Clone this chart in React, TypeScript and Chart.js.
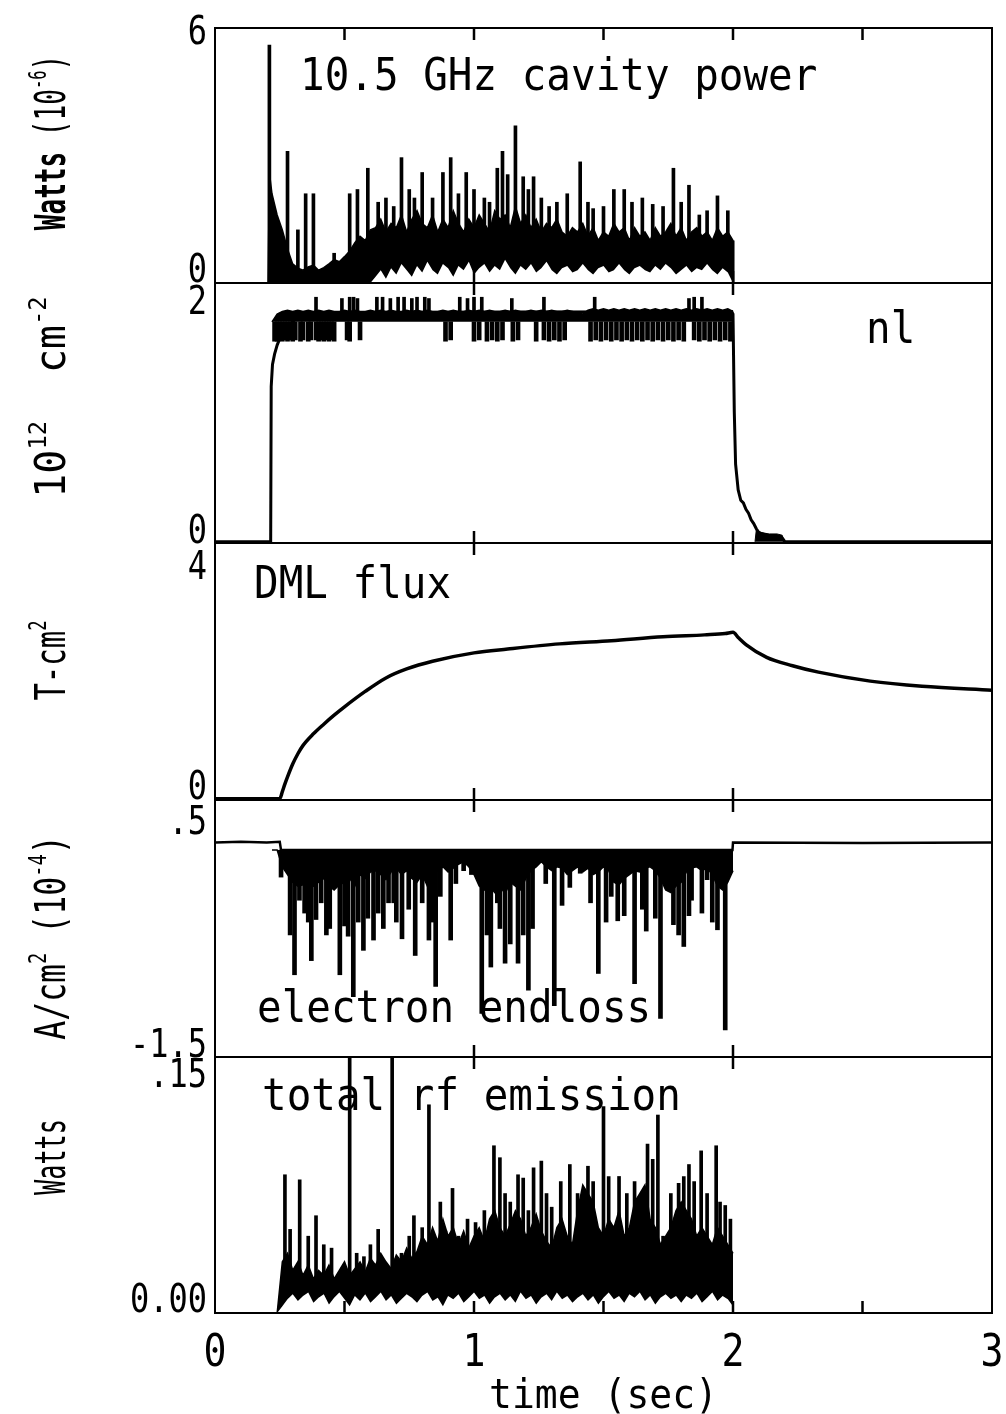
import React, { useEffect, useRef } from "react";
import Chart from "chart.js/auto";

// ---------------- data ----------------
// shared sampling grid (seconds) for the dense noisy bands
const TIME_GRID = [
  0.22, 0.24, 0.26, 0.28, 0.30, 0.32, 0.34, 0.36, 0.38, 0.40,
  0.42, 0.44, 0.46, 0.48, 0.50, 0.52, 0.54, 0.56, 0.58, 0.60,
  0.62, 0.64, 0.66, 0.68, 0.70, 0.72, 0.74, 0.76, 0.78, 0.80,
  0.82, 0.84, 0.86, 0.88, 0.90, 0.92, 0.94, 0.96, 0.98, 1.00,
  1.02, 1.04, 1.06, 1.08, 1.10, 1.12, 1.14, 1.16, 1.18, 1.20,
  1.22, 1.24, 1.26, 1.28, 1.30, 1.32, 1.34, 1.36, 1.38, 1.40,
  1.42, 1.44, 1.46, 1.48, 1.50, 1.52, 1.54, 1.56, 1.58, 1.60,
  1.62, 1.64, 1.66, 1.68, 1.70, 1.72, 1.74, 1.76, 1.78, 1.80,
  1.82, 1.84, 1.86, 1.88, 1.90, 1.92, 1.94, 1.96, 1.98, 2.00,
];

// Panel 1: 10.5 GHz cavity power (10^-6 W)
const CAV_EDGE_T = [0, 0.205, 0.21];
const CAV_EDGE_V = [0, 0, 2.6];
const CAV_TAIL_T = [2.003, 3];
const CAV_TAIL_V = [0, 0];
const CAV_TOP = [
  2.1, 1.6, 1.25, 0.8, 0.45, 0.35, 0.3, 0.38, 0.42, 0.3,
  0.36, 0.45, 0.55, 0.5, 0.62, 0.75, 0.95, 1.1, 1.0, 1.25,
  1.3, 1.5, 1.2, 1.4, 1.3, 1.6, 1.2, 1.5, 1.7, 1.4,
  1.3, 1.6, 1.2, 1.5, 1.3, 1.7, 1.4, 1.2, 1.5, 1.3,
  1.6, 1.4, 1.2, 1.7, 1.5, 1.6, 1.3, 1.8, 1.4, 1.6,
  1.3, 1.5, 1.2, 1.4, 1.3, 1.5, 1.2, 1.1, 1.3, 1.2,
  1.4, 1.1, 1.3, 1.0, 1.2, 1.1, 1.4, 1.2, 1.3, 1.0,
  1.3, 1.1, 1.2, 1.0, 1.3, 1.1, 1.2, 1.4, 1.1, 1.3,
  1.0, 1.2, 1.3, 1.1, 1.2, 1.0, 1.3, 1.1, 1.2, 1.0,
];
const CAV_LOW = [
  0, 0, 0, 0, 0, 0, 0, 0, 0, 0,
  0, 0, 0, 0, 0, 0, 0, 0, 0, 0,
  0.15, 0.3, 0.1, 0.35, 0.2, 0.45, 0.3, 0.15, 0.4, 0.25,
  0.5, 0.3, 0.2, 0.45, 0.35, 0.15, 0.4, 0.3, 0.5, 0.2,
  0.35, 0.45, 0.25, 0.4, 0.3, 0.55, 0.35, 0.2, 0.4, 0.3,
  0.45, 0.25, 0.35, 0.5, 0.3, 0.2, 0.35, 0.4, 0.25, 0.3,
  0.45, 0.3, 0.2, 0.35, 0.4, 0.25, 0.3, 0.45, 0.3, 0.2,
  0.35, 0.4, 0.3, 0.25, 0.4, 0.3, 0.45, 0.35, 0.2, 0.3,
  0.4, 0.25, 0.35, 0.3, 0.45, 0.3, 0.2, 0.35, 0.25, 0,
];
const CAV_SPIKE_T = [
  0.21, 0.28, 0.32, 0.35, 0.38, 0.46, 0.52, 0.55, 0.59, 0.63,
  0.66, 0.69, 0.72, 0.75, 0.77, 0.80, 0.84, 0.88, 0.91, 0.94,
  0.97, 1.00, 1.04, 1.06, 1.09, 1.11, 1.13, 1.16, 1.19, 1.21,
  1.23, 1.26, 1.29, 1.32, 1.36, 1.41, 1.44, 1.46, 1.50, 1.54,
  1.58, 1.61, 1.65, 1.69, 1.73, 1.77, 1.80, 1.83, 1.87, 1.90,
  1.94, 1.98,
];
const CAV_SPIKE_V = [
  5.6, 3.1, 1.25, 2.1, 2.1, 0.7, 2.1, 2.2, 2.7, 1.9,
  2.0, 1.8, 2.95, 2.2, 2.0, 2.6, 2.0, 2.6, 2.95, 2.1,
  2.6, 2.2, 2.0, 1.9, 2.7, 3.1, 2.55, 3.7, 2.5, 2.2,
  2.5, 2.0, 1.8, 1.9, 2.1, 2.85, 1.9, 1.75, 1.8, 2.2,
  2.2, 1.9, 2.0, 1.85, 1.8, 2.7, 1.9, 2.3, 1.6, 1.7,
  2.05, 1.7,
];

// Panel 2: line density nl (10^12 cm^-2)
const NL_T = [
  0, 0.215, 0.217, 0.222, 0.23, 0.24, 0.25, 0.26, 0.28, 0.30,
  0.32, 0.34, 1.995, 2.0, 2.005, 2.01, 2.02, 2.03, 2.04, 2.05,
  2.06, 2.07, 2.08, 2.09, 2.10, 2.13, 2.16, 2.19, 2.2, 3.0,
];
const NL_V = [
  0, 0, 1.2, 1.37, 1.45, 1.52, 1.57, 1.61, 1.66, 1.70,
  1.74, 1.77, 1.78, 1.76, 1.0, 0.6, 0.4, 0.32, 0.3, 0.25,
  0.22, 0.17, 0.14, 0.1, 0.07, 0.05, 0.04, 0.03, 0, 0,
];
const NL_BAND_BOTTOM = 1.70;
const NL_BAND = [
  1.70, 1.76, 1.78, 1.79, 1.78, 1.79, 1.78, 1.79, 1.78, 1.79,
  1.78, 1.79, 1.78, 1.78, 1.79, 1.78, 1.79, 1.78, 1.78, 1.79,
  1.78, 1.79, 1.78, 1.79, 1.78, 1.78, 1.79, 1.78, 1.79, 1.78,
  1.79, 1.78, 1.78, 1.79, 1.78, 1.79, 1.78, 1.78, 1.79, 1.78,
  1.79, 1.78, 1.79, 1.78, 1.78, 1.79, 1.78, 1.79, 1.78, 1.78,
  1.79, 1.78, 1.79, 1.78, 1.79, 1.78, 1.78, 1.79, 1.78, 1.77,
  1.76, 1.79, 1.80, 1.79, 1.80, 1.79, 1.80, 1.79, 1.80, 1.79,
  1.80, 1.79, 1.80, 1.79, 1.80, 1.79, 1.80, 1.79, 1.80, 1.79,
  1.80, 1.79, 1.80, 1.79, 1.80, 1.79, 1.80, 1.79, 1.80, 1.78,
];
const NL_LOW_T = [
  0.23, 0.24, 0.25, 0.26, 0.27, 0.28, 0.29, 0.30, 0.31, 0.33, 0.34, 0.36, 0.37,
  0.39, 0.40, 0.41, 0.42, 0.43, 0.44, 0.45, 0.46,
  0.51, 0.52, 0.56, 0.89, 0.91, 1.00, 1.02,
  1.05, 1.07, 1.09, 1.11, 1.15, 1.17, 1.24, 1.27,
  1.29, 1.31, 1.33, 1.35,
  1.45, 1.47, 1.49, 1.51, 1.53, 1.55, 1.57,
  1.59, 1.61, 1.63, 1.65,
  1.67, 1.69, 1.71, 1.73, 1.75, 1.77, 1.79, 1.81,
  1.85, 1.87, 1.89, 1.91, 1.93, 1.95, 1.97, 1.99,
];
const NL_LOW_V = [
  1.55, 1.55, 1.56, 1.55, 1.56, 1.55, 1.56, 1.55, 1.56, 1.55, 1.56, 1.55, 1.56,
  1.56, 1.55, 1.56, 1.55, 1.56, 1.55, 1.56, 1.55,
  1.56, 1.55, 1.56, 1.55, 1.56, 1.55, 1.56,
  1.55, 1.56, 1.55, 1.56, 1.55, 1.56, 1.55, 1.56,
  1.55, 1.56, 1.55, 1.56,
  1.55, 1.56, 1.55, 1.56, 1.55, 1.56, 1.55,
  1.56, 1.55, 1.56, 1.55,
  1.56, 1.55, 1.56, 1.55, 1.56, 1.55, 1.56, 1.55,
  1.56, 1.55, 1.56, 1.55, 1.56, 1.55, 1.56, 1.55,
];
const NL_SPIKE_BASE = 1.76;
const NL_SPIKE_T = [
  0.39, 0.49, 0.52, 0.535, 0.55, 0.625, 0.647, 0.677, 0.707, 0.73,
  0.76, 0.78, 0.81, 0.826, 0.945, 0.975, 1.0, 1.03, 1.146, 1.27,
  1.466, 1.83, 1.85, 1.88,
];
const NL_SPIKE_V = [
  1.89, 1.88, 1.89, 1.89, 1.88, 1.89, 1.89, 1.88, 1.89, 1.89,
  1.88, 1.89, 1.89, 1.88, 1.89, 1.88, 1.89, 1.89, 1.88, 1.89,
  1.89, 1.88, 1.89, 1.89,
];
const NL_BLOB_T = [2.085, 2.09, 2.11, 2.14, 2.17, 2.19, 2.195];
const NL_BLOB_V = [0, 0.09, 0.07, 0.06, 0.06, 0.05, 0];

// Panel 3: DML flux (T-cm^2)
const DML_T = [
  0, 0.25, 0.26, 0.27, 0.28, 0.30, 0.32, 0.34, 0.38, 0.42,
  0.46, 0.50, 0.58, 0.66, 0.74, 0.84, 1.0, 1.13, 1.33, 1.53,
  1.73, 1.89, 1.97, 2.0, 2.02, 2.05, 2.13, 2.23, 2.33, 2.53,
  2.73, 3.0,
];
const DML_V = [
  0.02, 0.02, 0.13, 0.25, 0.36, 0.56, 0.72, 0.85, 1.03, 1.18,
  1.32, 1.45, 1.69, 1.90, 2.04, 2.16, 2.29, 2.35, 2.43, 2.48,
  2.54, 2.57, 2.59, 2.61, 2.53, 2.42, 2.22, 2.09, 1.99, 1.85,
  1.77, 1.71,
];

// Panel 4: electron endloss (10^-4 A/cm^2)
const EL_TOP = 0.11;
const EL_LINE_T = [0, 0.10, 0.20, 0.25, 0.255, 1.998, 2.0, 2.5, 3.0];
const EL_LINE_V = [0.17, 0.175, 0.17, 0.175, 0.11, 0.11, 0.17, 0.165, 0.17];
const EL_BAND = [
  0.11, 0.11, -0.02, -0.08, -0.14, -0.17, -0.16, -0.12, -0.17, -0.14,
  -0.11, -0.17, -0.2, -0.16, -0.14, -0.11, -0.17, -0.08, -0.11, -0.06,
  -0.05, -0.08, -0.12, -0.06, -0.03, -0.08, -0.05, -0.11, -0.14, -0.08,
  -0.17, -0.11, -0.05, -0.02, -0.06, -0.03, 0.0, 0.02, -0.02, -0.08,
  -0.17, -0.2, -0.17, -0.22, -0.17, -0.23, -0.14, -0.17, -0.2, -0.11,
  -0.05, -0.02, 0.02, -0.02, -0.05, -0.02, -0.03, -0.08, -0.05, -0.02,
  -0.06, -0.03, -0.08, -0.06, -0.02, -0.05, -0.14, -0.16, -0.11, -0.08,
  -0.05, -0.06, -0.03, -0.02, -0.05, -0.11, -0.2, -0.22, -0.17, -0.14,
  -0.06, -0.03, -0.02, -0.05, -0.03, -0.08, -0.17, -0.2, -0.14, -0.05,
];
const EL_SPIKE_T = [
  0.255, 0.29, 0.307, 0.326, 0.346, 0.36, 0.372, 0.39, 0.41, 0.43,
  0.443, 0.482, 0.50, 0.514, 0.534, 0.553, 0.573, 0.59, 0.612, 0.63,
  0.65, 0.67, 0.69, 0.70, 0.722, 0.748, 0.773, 0.80, 0.826, 0.84,
  0.852, 0.87, 0.91, 0.93, 0.96, 0.99, 1.03, 1.05, 1.065, 1.09,
  1.10, 1.12, 1.14, 1.17, 1.19, 1.21, 1.226, 1.277, 1.31, 1.34,
  1.37, 1.41, 1.45, 1.48, 1.51, 1.53, 1.555, 1.58, 1.62, 1.65,
  1.665, 1.70, 1.72, 1.77, 1.79, 1.81, 1.83, 1.84, 1.88, 1.90,
  1.92, 1.94, 1.97, 1.99,
];
const EL_SPIKE_V = [
  -0.10, -0.55, -0.86, -0.28, -0.38, -0.45, -0.75, -0.43, -0.30, -0.55,
  -0.50, -0.86, -0.48, -0.56, -1.03, -0.45, -0.67, -0.42, -0.59, -0.38,
  -0.50, -0.30, -0.30, -0.45, -0.58, -0.35, -0.71, -0.30, -0.59, -0.45,
  -0.95, -0.25, -0.59, -0.15, -0.05, -0.08, -1.16, -0.55, -0.80, -0.30,
  -0.50, -0.77, -0.62, -0.77, -0.55, -0.98, -0.50, -0.15, -1.10, -0.32,
  -0.18, -0.07, -0.30, -0.85, -0.45, -0.25, -0.44, -0.40, -0.93, -0.35,
  -0.52, -0.42, -1.20, -0.47, -0.55, -0.64, -0.40, -0.28, -0.38, -0.12,
  -0.45, -0.51, -1.29, -0.02,
];

// Panel 5: total rf emission (W)
const RF_TOP = [
  0, 0, 0.03, 0.035, 0.025, 0.03, 0.022, 0.028, 0.02, 0.025,
  0.022, 0.028, 0.02, 0.025, 0.03, 0.022, 0.026, 0.03, 0.024, 0.032,
  0.028, 0.035, 0.03, 0.026, 0.034, 0.03, 0.038, 0.032, 0.036, 0.045,
  0.04, 0.05, 0.042, 0.055, 0.045, 0.05, 0.04, 0.048, 0.038, 0.045,
  0.05, 0.042, 0.055, 0.06, 0.05, 0.045, 0.052, 0.06, 0.055, 0.045,
  0.05, 0.058, 0.048, 0.042, 0.038, 0.05, 0.055, 0.045, 0.04, 0.06,
  0.075, 0.07, 0.065, 0.05, 0.045, 0.055, 0.05, 0.06, 0.045, 0.05,
  0.065, 0.07, 0.075, 0.055, 0.05, 0.04, 0.045, 0.05, 0.06, 0.065,
  0.06, 0.055, 0.045, 0.05, 0.045, 0.04, 0.05, 0.045, 0.04, 0.035,
];
const RF_LOW = [
  0, 0, 0.004, 0.008, 0.011, 0.007, 0.010, 0.012, 0.006, 0.009,
  0.011, 0.005, 0.009, 0.012, 0.008, 0.004, 0.010, 0.007, 0.011, 0.006,
  0.009, 0.012, 0.007, 0.010, 0.005, 0.008, 0.011, 0.009, 0.006, 0.010,
  0.012, 0.007, 0.009, 0.004, 0.010, 0.008, 0.011, 0.006, 0.009, 0.012,
  0.008, 0.010, 0.005, 0.009, 0.011, 0.007, 0.010, 0.006, 0.012, 0.008,
  0.010, 0.005, 0.009, 0.011, 0.007, 0.012, 0.008, 0.010, 0.006, 0.009,
  0.011, 0.007, 0.010, 0.005, 0.009, 0.012, 0.008, 0.010, 0.006, 0.011,
  0.009, 0.012, 0.007, 0.010, 0.005, 0.009, 0.011, 0.008, 0.010, 0.006,
  0.010, 0.008, 0.011, 0.006, 0.009, 0.012, 0.007, 0.010, 0.008, 0.004,
];
const RF_SPIKE_T = [
  0.27, 0.29, 0.327, 0.36, 0.39, 0.42, 0.45, 0.52, 0.547, 0.575,
  0.60, 0.63, 0.684, 0.72, 0.75, 0.768, 0.80, 0.826, 0.846, 0.87,
  0.89, 0.917, 0.94, 0.975, 1.006, 1.04, 1.077, 1.10, 1.12, 1.14,
  1.17, 1.19, 1.21, 1.23, 1.26, 1.28, 1.30, 1.335, 1.37, 1.40,
  1.44, 1.46, 1.50, 1.52, 1.56, 1.59, 1.62, 1.67, 1.69, 1.71,
  1.73, 1.76, 1.79, 1.81, 1.83, 1.85, 1.877, 1.90, 1.935, 1.95,
  1.97, 1.99,
];
const RF_SPIKE_V = [
  0.081, 0.049, 0.078, 0.045, 0.057, 0.040, 0.038, 0.15, 0.035, 0.033,
  0.040, 0.049, 0.15, 0.035, 0.045, 0.057, 0.05, 0.122, 0.042, 0.065,
  0.048, 0.073, 0.045, 0.055, 0.053, 0.06, 0.098, 0.091, 0.07, 0.065,
  0.081, 0.079, 0.06, 0.085, 0.089, 0.07, 0.062, 0.077, 0.087, 0.07,
  0.086, 0.077, 0.121, 0.08, 0.08, 0.07, 0.077, 0.099, 0.09, 0.116,
  0.045, 0.07, 0.076, 0.08, 0.087, 0.077, 0.095, 0.07, 0.098, 0.065,
  0.063, 0.055,
];

// axes / labels
const PANEL_IDS = ["y1", "y2", "y3", "y4", "y5"];
const Y_MIN = [0, -0.01, 0, -1.5, 0];
const Y_MAX = [6, 2, 4, 0.5, 0.15];
const Y_TOP_TICK = [6, 2, 4, 0.5, 0.15];
const Y_BOTTOM_TICK = [0, 0, 0, -1.5, 0];
const Y_TOP_LABELS = ["6", "2", "4", ".5", ".15"];
const Y_BOTTOM_LABELS = ["0", "0", "0", "-1.5", "0.00"];
const X_TICK_VALUES = [0, 1, 2, 3];
const X_TICK_LABELS = ["0", "1", "2", "3"];
const X_TITLE = "time (sec)";
const PANEL_TITLES = ["10.5 GHz cavity power", "nl", "DML flux", "electron endloss", "total rf emission"];
const AXIS_TITLES = [
  [{ t: "Watts ", b: true }, { t: "(10" }, { t: "-6", sup: true }, { t: ")" }],
  [{ t: "10" }, { t: "12", sup: true }, { t: "  cm" }, { t: "-2", sup: true }],
  [{ t: "T-cm" }, { t: "2", sup: true }],
  [{ t: "A/cm" }, { t: "2", sup: true }, { t: " (10" }, { t: "-4", sup: true }, { t: ")" }],
  [{ t: "Watts" }],
];
const TOP_TICKS = [[0.5, 1, 1.5, 2, 2.5], [1, 2], [1, 2], [1, 2], [1, 2]];
const BOTTOM_TICKS = [[1, 2], [1, 2], [1, 2], [1, 2], [0.5, 1, 1.5, 2, 2.5]];

// ---------------- styles / layout ----------------
const FONT = '"DejaVu Sans Mono", monospace';
const STACK_WEIGHTS = [255, 260, 257, 257, 256];
const TOP_LABEL_DY = [2, 17, 22, 20, 16];
const BOTTOM_LABEL_DY = [-15, -13, -15, -14, -15];
const TITLE_POS = [[300, 90], [866, 343], [254, 598], [257, 1022], [262, 1110]];
const AXIS_TITLE_X = 50;
const AXIS_TITLE_DY = [-13, -16, -11, 9, -28];
const AXIS_TITLE_STYLE = [
  { size: 42, sx: 0.62 }, { size: 42, sx: 0.95 }, { size: 42, sx: 0.69 }, { size: 42, sx: 0.75 }, { size: 42, sx: 0.6 },
];
const TICK_LEN = 12;
const Y_LABEL_SIZE = 39;

const pts = (T: number[], V: number[]) => T.map((x, i) => ({ x, y: V[i] }));
const floatPts = (T: number[], V: number[], other: number) =>
  T.map((x, i) => ({ x, y: [Math.min(V[i], other), Math.max(V[i], other)] }));

function drawText(ctx: CanvasRenderingContext2D, s: string, x: number, yc: number, size: number, sx: number, align: string) {
  ctx.save();
  ctx.font = `${size}px ${FONT}`;
  ctx.textBaseline = "alphabetic";
  ctx.textAlign = "left";
  const w = ctx.measureText(s).width * sx;
  const x0 = align === "left" ? x : align === "right" ? x - w : x - w / 2;
  ctx.translate(x0, yc + size * 0.365);
  ctx.scale(sx, 1);
  ctx.fillText(s, 0, 0);
  ctx.restore();
}

function drawTitleText(ctx: CanvasRenderingContext2D, s: string, x: number, baseline: number, size: number, sx: number) {
  ctx.save();
  ctx.font = `${size}px ${FONT}`;
  ctx.textBaseline = "alphabetic";
  ctx.translate(x, baseline);
  ctx.scale(sx, 1);
  ctx.fillText(s, 0, 0);
  ctx.restore();
}

function drawRich(ctx: CanvasRenderingContext2D, parts: any[], cx: number, cy: number, size: number, sx: number) {
  ctx.save();
  ctx.translate(cx, cy);
  ctx.rotate(-Math.PI / 2);
  const fontOf = (p: any) => `${p.b ? "bold " : ""}${p.sup ? Math.round(size * 0.6) : size}px ${FONT}`;
  const widths = parts.map((p) => {
    ctx.font = fontOf(p);
    return ctx.measureText(p.t).width * sx;
  });
  const total = widths.reduce((a, b) => a + b, 0);
  let x = -total / 2;
  ctx.textBaseline = "alphabetic";
  parts.forEach((p, i) => {
    ctx.save();
    ctx.font = fontOf(p);
    ctx.translate(x, size * 0.36 + (p.sup ? -size * 0.45 : 0));
    ctx.scale(sx, 1);
    ctx.fillText(p.t, 0, 0);
    ctx.restore();
    x += widths[i];
  });
  ctx.restore();
}

const overlay = {
  id: "overlay",
  beforeDraw(chart: any) {
    const ctx = chart.ctx;
    ctx.save();
    ctx.fillStyle = "#fff";
    ctx.fillRect(0, 0, chart.width, chart.height);
    ctx.restore();
  },
  afterDraw(chart: any) {
    const ctx: CanvasRenderingContext2D = chart.ctx;
    const ca = chart.chartArea;
    const xs = chart.scales.x;
    ctx.save();
    ctx.strokeStyle = "#000";
    ctx.fillStyle = "#000";
    ctx.lineWidth = 2;
    PANEL_IDS.forEach((id, i) => {
      const s = chart.scales[id];
      ctx.strokeRect(ca.left, s.top, ca.right - ca.left, s.bottom - s.top);
      ctx.lineWidth = 2.5;
      ctx.beginPath();
      TOP_TICKS[i].forEach((v) => {
        const x = xs.getPixelForValue(v);
        ctx.moveTo(x, s.top);
        ctx.lineTo(x, s.top + TICK_LEN);
      });
      BOTTOM_TICKS[i].forEach((v) => {
        const x = xs.getPixelForValue(v);
        ctx.moveTo(x, s.bottom);
        ctx.lineTo(x, s.bottom - TICK_LEN);
      });
      ctx.stroke();
      ctx.lineWidth = 2;
      drawText(ctx, Y_TOP_LABELS[i], ca.left - 8, s.getPixelForValue(Y_TOP_TICK[i]) + TOP_LABEL_DY[i], Y_LABEL_SIZE, 0.82, "right");
      drawText(ctx, Y_BOTTOM_LABELS[i], ca.left - 8, s.getPixelForValue(Y_BOTTOM_TICK[i]) + BOTTOM_LABEL_DY[i], Y_LABEL_SIZE, 0.82, "right");
      drawTitleText(ctx, PANEL_TITLES[i], TITLE_POS[i][0], TITLE_POS[i][1], 44, 0.93);
      const st = AXIS_TITLE_STYLE[i];
      drawRich(ctx, AXIS_TITLES[i], AXIS_TITLE_X, (s.top + s.bottom) / 2 + AXIS_TITLE_DY[i], st.size, st.sx);
    });
    X_TICK_VALUES.forEach((v, i) => {
      drawText(ctx, X_TICK_LABELS[i], xs.getPixelForValue(v), ca.bottom + 37, 45, 0.85, "center");
    });
    drawText(ctx, X_TITLE, (ca.left + ca.right) / 2, ca.bottom + 80, 40, 0.95, "center");
    ctx.restore();
  },
};

function yScale(i: number) {
  return {
    type: "linear",
    position: "left",
    stack: "panels",
    stackWeight: STACK_WEIGHTS[i],
    weight: 5 - i,
    min: Y_MIN[i],
    max: Y_MAX[i],
    offset: false,
    display: true,
    ticks: { display: false },
    grid: { display: false, drawTicks: false },
    border: { display: false },
    afterFit: (sc: any) => {
      sc.width = 0;
    },
  };
}

const lineBase = { type: "line", pointRadius: 0, tension: 0, xAxisID: "x" };
const barBase = { type: "bar", grouped: false, borderWidth: 0, backgroundColor: "#000", xAxisID: "x" };

export default function App() {
  const ref = useRef<HTMLCanvasElement>(null);
  useEffect(() => {
    const datasets: any[] = [
      // panel 1
      { ...lineBase, yAxisID: "y1", order: 10, data: [...pts(CAV_EDGE_T, CAV_EDGE_V), ...pts(TIME_GRID, CAV_TOP), ...pts(CAV_TAIL_T, CAV_TAIL_V)], borderColor: "#000", borderWidth: 1.5, backgroundColor: "#000", fill: "origin" },
      { ...barBase, yAxisID: "y1", order: 5, data: pts(CAV_SPIKE_T, CAV_SPIKE_V), barThickness: 3 },
      { ...lineBase, yAxisID: "y1", order: 3, data: pts(TIME_GRID, CAV_LOW), borderWidth: 0, borderColor: "#fff", backgroundColor: "#fff", fill: "origin" },
      // panel 2
      { ...lineBase, yAxisID: "y2", order: 10, data: pts(TIME_GRID, NL_BAND), borderColor: "#000", borderWidth: 1.5, backgroundColor: "#000", fill: { value: NL_BAND_BOTTOM } },
      { ...barBase, yAxisID: "y2", order: 5, data: floatPts(NL_LOW_T, NL_LOW_V, NL_BAND_BOTTOM), barThickness: 4 },
      { ...barBase, yAxisID: "y2", order: 5, data: floatPts(NL_SPIKE_T, NL_SPIKE_V, NL_SPIKE_BASE), barThickness: 3 },
      { ...lineBase, yAxisID: "y2", order: 2, data: pts(NL_BLOB_T, NL_BLOB_V), borderColor: "#000", borderWidth: 1, backgroundColor: "#000", fill: "origin" },
      { ...lineBase, yAxisID: "y2", order: 1, data: pts(NL_T, NL_V), borderColor: "#000", borderWidth: 3, fill: false },
      // panel 3
      { ...lineBase, yAxisID: "y3", order: 1, data: pts(DML_T, DML_V), borderColor: "#000", borderWidth: 3.5, fill: false, cubicInterpolationMode: "monotone" },
      // panel 4
      { ...lineBase, yAxisID: "y4", order: 10, data: pts(TIME_GRID, EL_BAND), borderColor: "#000", borderWidth: 1.5, backgroundColor: "#000", fill: { value: EL_TOP } },
      { ...barBase, yAxisID: "y4", order: 5, data: floatPts(EL_SPIKE_T, EL_SPIKE_V, EL_TOP), barThickness: 4 },
      { ...lineBase, yAxisID: "y4", order: 1, data: pts(EL_LINE_T, EL_LINE_V), borderColor: "#000", borderWidth: 2.5, fill: false },
      // panel 5
      { ...lineBase, yAxisID: "y5", order: 10, data: pts(TIME_GRID, RF_TOP), borderColor: "#000", borderWidth: 1.5, backgroundColor: "#000", fill: "origin" },
      { ...barBase, yAxisID: "y5", order: 5, data: pts(RF_SPIKE_T, RF_SPIKE_V), barThickness: 3 },
      { ...lineBase, yAxisID: "y5", order: 3, data: pts(TIME_GRID, RF_LOW), borderWidth: 0, borderColor: "#fff", backgroundColor: "#fff", fill: "origin" },
    ];
    const chart = new Chart(ref.current as HTMLCanvasElement, {
      type: "line",
      data: { datasets },
      options: {
        responsive: false,
        animation: false,
        events: [],
        devicePixelRatio: 1,
        layout: { padding: { left: 215, right: 14, top: 28, bottom: 101 } },
        plugins: { legend: { display: false }, tooltip: { enabled: false } },
        scales: {
          x: {
            type: "linear",
            min: 0,
            max: 3,
            offset: false,
            display: true,
            ticks: { display: false },
            grid: { display: false, drawTicks: false },
            border: { display: false },
            afterFit: (sc: any) => {
              sc.height = 0;
            },
          },
          y5: yScale(4),
          y4: yScale(3),
          y3: yScale(2),
          y2: yScale(1),
          y1: yScale(0),
        } as any,
      },
      plugins: [overlay],
    } as any);
    return () => chart.destroy();
  }, []);
  return (
    <canvas
      ref={ref}
      width={1006}
      height={1414}
      style={{ position: "absolute", left: 0, top: 0, width: 1006, height: 1414 }}
    />
  );
}
